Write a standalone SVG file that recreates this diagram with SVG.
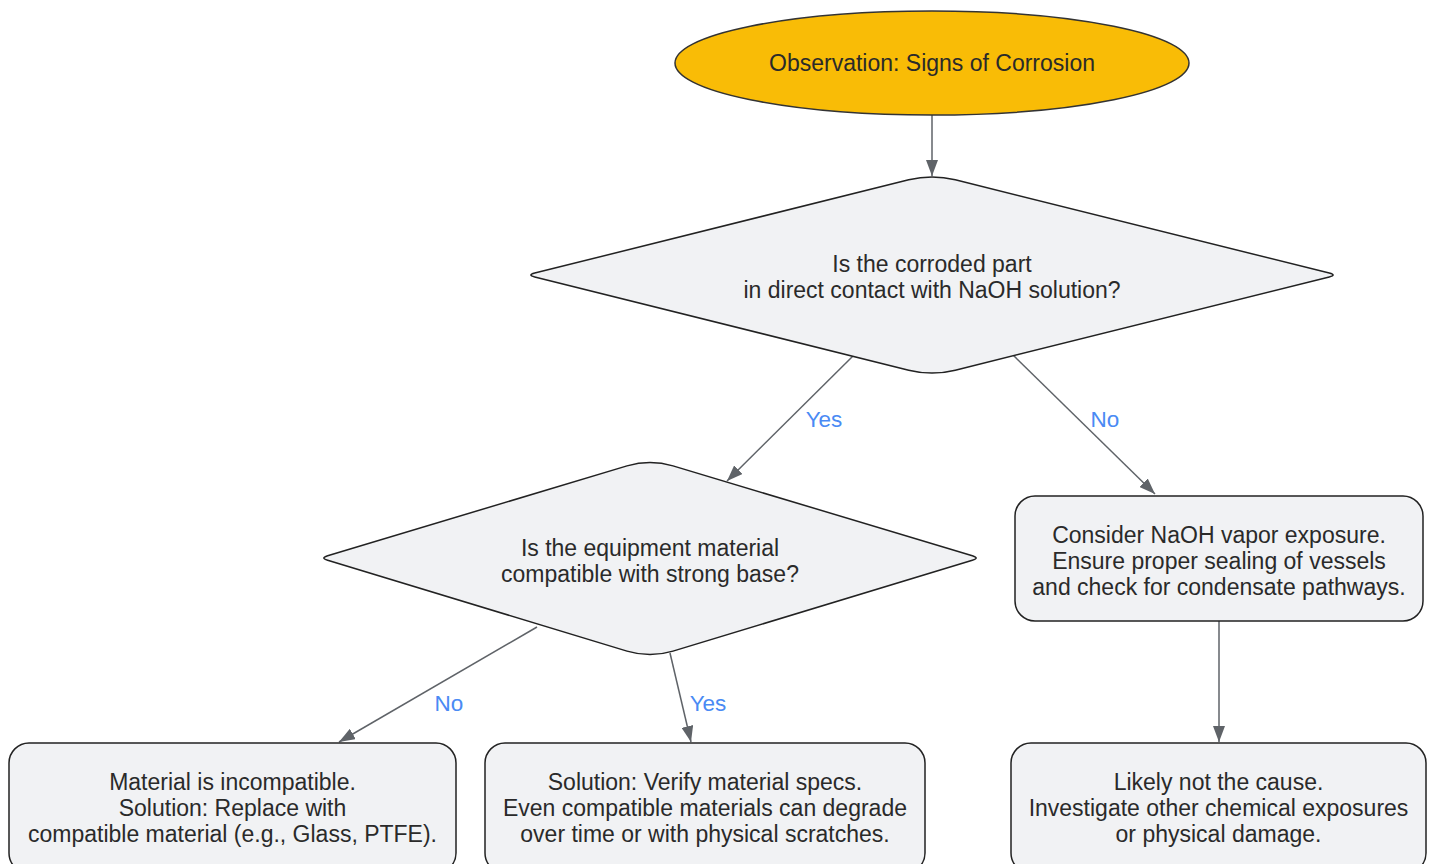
<svg xmlns="http://www.w3.org/2000/svg" width="1434" height="864" viewBox="0 0 1434 864">
<style>
  .node { fill: #F1F2F4; stroke: #222; stroke-width: 1.5; }
  .start { fill: #F9BC06; stroke: #333; stroke-width: 1.5; }
  .txt { font-family: "Liberation Sans", Arial, sans-serif; font-size: 23px; fill: #2a2a2a; text-anchor: middle; }
  .lbl { font-family: "Liberation Sans", Arial, sans-serif; font-size: 22.5px; fill: #4A8AF4; text-anchor: middle; }
  .edge { fill: none; stroke: #5F6368; stroke-width: 1.5; marker-end: url(#arrow); }
</style>
<defs>
  <marker id="arrow" markerUnits="userSpaceOnUse" viewBox="0 0 16 12" markerWidth="16" markerHeight="12" refX="16" refY="6" orient="auto">
    <path d="M0,0 L16,6 L0,12 z" fill="#5F6368"/>
  </marker>
</defs>
<rect width="1434" height="864" fill="#FFFFFF"/>

<g id="connectors">
  <line class="edge" x1="932" y1="115" x2="932" y2="176"/>
  <line class="edge" x1="853" y1="356" x2="727" y2="481"/>
  <line class="edge" x1="1013" y1="355" x2="1155" y2="494"/>
  <line class="edge" x1="1219" y1="621" x2="1219" y2="742"/>
  <line class="edge" x1="537" y1="627" x2="339" y2="742"/>
  <line class="edge" x1="670" y1="653" x2="691" y2="742"/>
  <text class="lbl" x="824" y="427">Yes</text>
  <text class="lbl" x="1105" y="427">No</text>
  <text class="lbl" x="449" y="711">No</text>
  <text class="lbl" x="708" y="711">Yes</text>
</g>

<g id="start">
  <ellipse class="start" cx="932" cy="63" rx="257" ry="52"/>
  <text class="txt" x="932" y="71">Observation: Signs of Corrosion</text>
</g>

<g id="q1">
  <path class="node" d="M908.71,179.81 Q932,174 955.29,179.81 L1329.24,273.06 Q1337,275 1329.24,276.94 L955.29,370.19 Q932,376 908.71,370.19 L534.76,276.94 Q527,275 534.76,273.06 Z"/>
  <text class="txt" x="932" y="272">Is the corroded part</text>
  <text class="txt" x="932" y="298">in direct contact with NaOH solution?</text>
</g>

<g id="q2">
  <path class="node" d="M627.01,465.9 Q650,459 672.99,465.9 L972.34,555.7 Q980,558 972.34,560.3 L672.99,651.1 Q650,658 627.01,651.1 L327.66,560.3 Q320,558 327.66,555.7 Z"/>
  <text class="txt" x="650" y="556">Is the equipment material</text>
  <text class="txt" x="650" y="582">compatible with strong base?</text>
</g>

<g id="vapor">
  <rect class="node" x="1015" y="496" width="408" height="125" rx="20" ry="20"/>
  <text class="txt" x="1219" y="543">Consider NaOH vapor exposure.</text>
  <text class="txt" x="1219" y="569">Ensure proper sealing of vessels</text>
  <text class="txt" x="1219" y="595">and check for condensate pathways.</text>
</g>

<g id="incompatible">
  <rect class="node" x="9" y="743" width="447" height="130" rx="20" ry="20"/>
  <text class="txt" x="232.5" y="790">Material is incompatible.</text>
  <text class="txt" x="232.5" y="816">Solution: Replace with</text>
  <text class="txt" x="232.5" y="842">compatible material (e.g., Glass, PTFE).</text>
</g>

<g id="verify">
  <rect class="node" x="485" y="743" width="440" height="130" rx="20" ry="20"/>
  <text class="txt" x="705" y="790">Solution: Verify material specs.</text>
  <text class="txt" x="705" y="816">Even compatible materials can degrade</text>
  <text class="txt" x="705" y="842">over time or with physical scratches.</text>
</g>

<g id="notcause">
  <rect class="node" x="1011" y="743" width="415" height="130" rx="20" ry="20"/>
  <text class="txt" x="1218.5" y="790">Likely not the cause.</text>
  <text class="txt" x="1218.5" y="816">Investigate other chemical exposures</text>
  <text class="txt" x="1218.5" y="842">or physical damage.</text>
</g>
</svg>
